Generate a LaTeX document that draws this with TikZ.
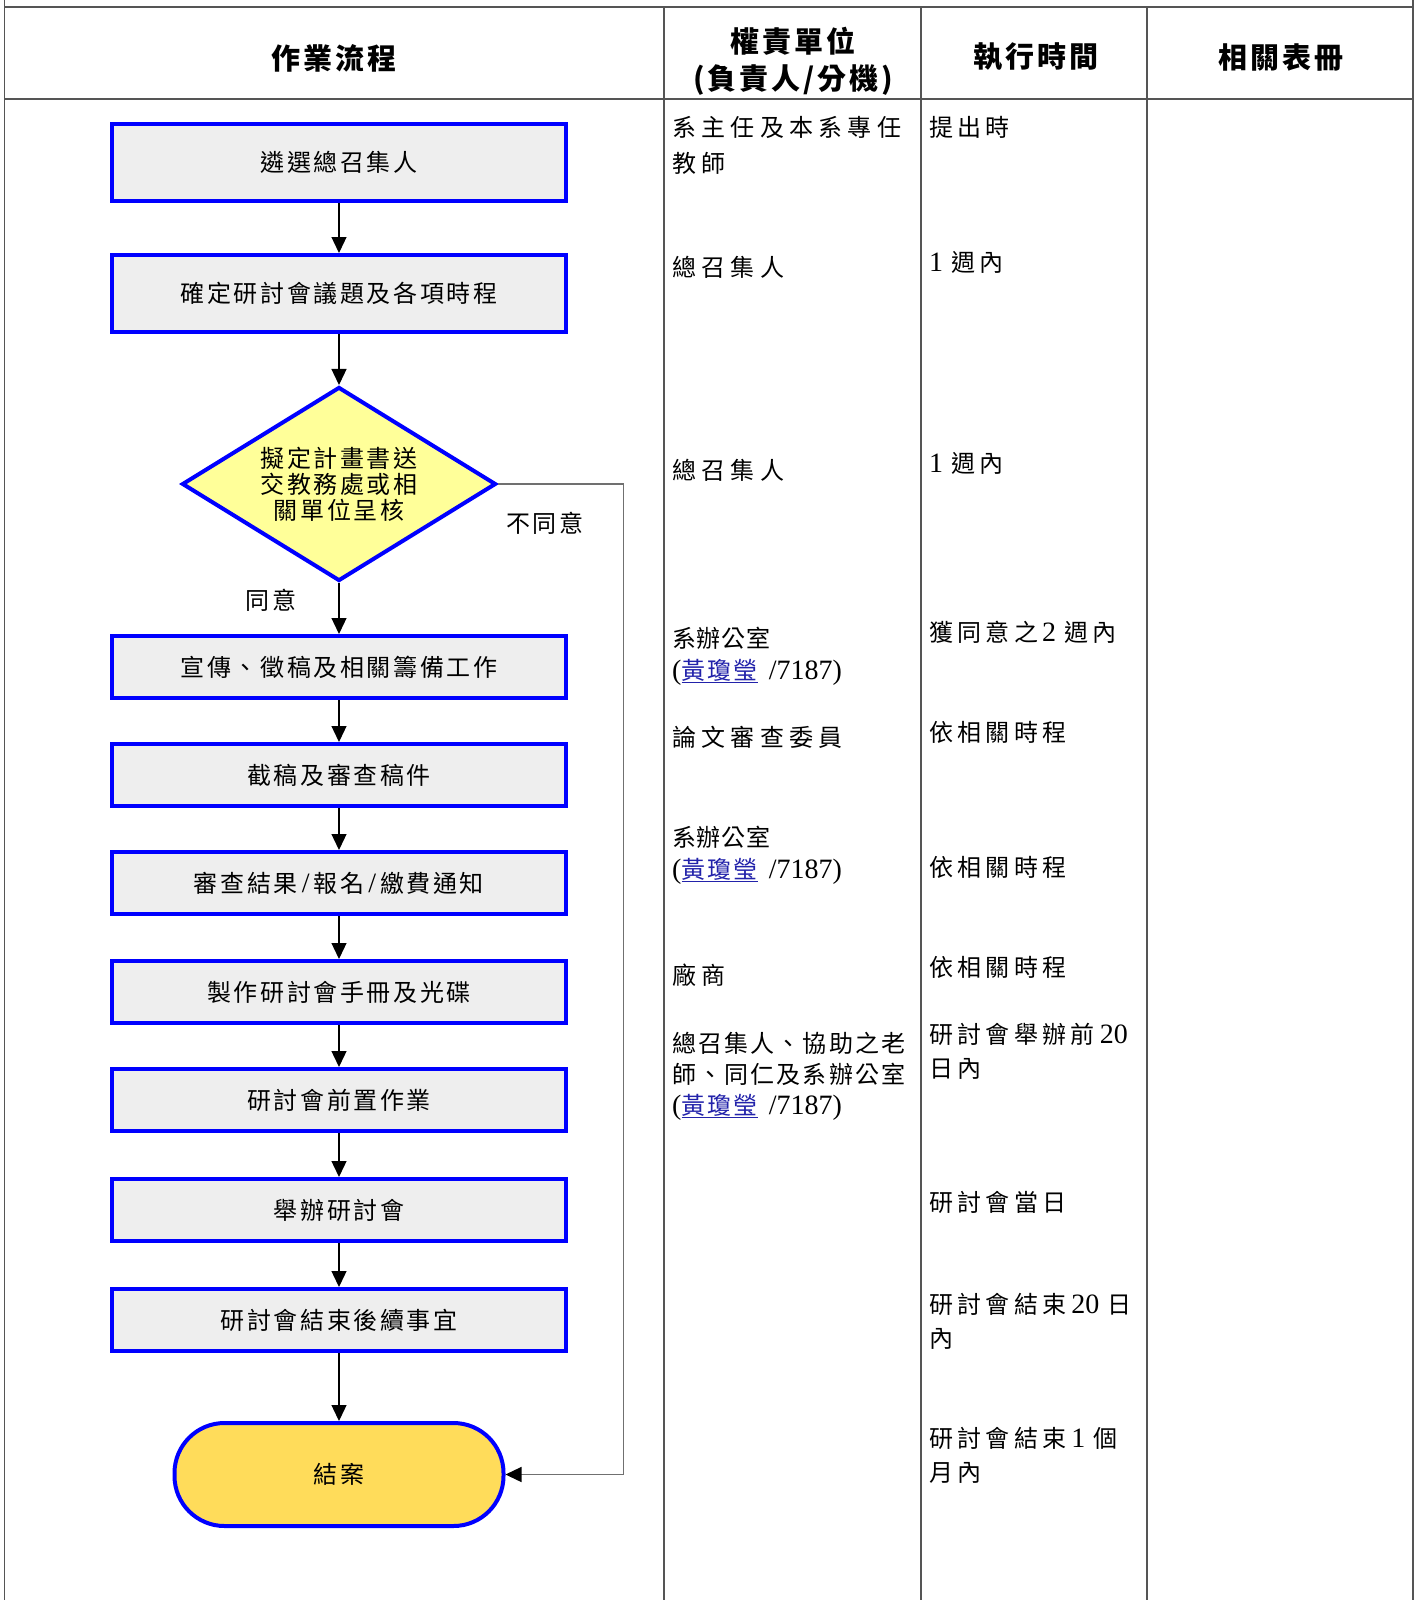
\documentclass[tikz,border=0pt]{standalone}
\usepackage{fontspec}
\setmainfont{Noto Sans CJK TC}
\newfontfamily\latfont{Liberation Serif}
\newfontfamily\stepfont[LetterSpace=11]{Noto Sans CJK TC}
\newfontfamily\cellfont[LetterSpace=22]{Noto Sans CJK TC}
\newfontfamily\timefont[LetterSpace=18]{Noto Sans CJK TC}
\newfontfamily\tightfont[LetterSpace=9]{Noto Sans CJK TC}
\newfontfamily\officefont[LetterSpace=3]{Noto Sans CJK TC}
\newfontfamily\headfont[LetterSpace=10]{Noto Sans CJK TC}
\usepackage{tikz}
\usetikzlibrary{shapes.geometric,arrows.meta,positioning}
\definecolor{stepblue}{HTML}{0000FF}
\definecolor{stepgray}{HTML}{EEEEEE}
\definecolor{askyellow}{HTML}{FFFF99}
\definecolor{endgold}{HTML}{FFDC5A}
\definecolor{rulegray}{HTML}{555555}
\definecolor{backgray}{HTML}{707070}
\definecolor{linkblue}{HTML}{2222AA}
\tikzstyle{grid} = [draw=rulegray, line width=1.8pt]
\tikzstyle{arrow} = [line width=1.3pt, ->]
\tikzstyle{back} = [draw=backgray, line width=1.3pt, -{Triangle[width=15pt,length=16pt,color=black]}]
\tikzstyle{stepbox} = [rectangle, draw=stepblue, fill=stepgray, line width=4pt, minimum width=454pt, minimum height=62pt, inner sep=0pt, font=\stepfont\fontsize{24}{26}\selectfont]
\tikzstyle{tallbox} = [stepbox, minimum height=77pt]
\tikzstyle{decide} = [diamond, draw=stepblue, fill=askyellow, line width=4pt, aspect=1.6, minimum width=314pt, minimum height=194pt, inner sep=1pt, align=center, font=\stepfont\fontsize{24}{26}\selectfont]
\tikzstyle{finish} = [rectangle, rounded corners=50pt, draw=stepblue, fill=endgold, line width=4pt, minimum width=329pt, minimum height=103pt, font=\stepfont\fontsize{24}{26}\selectfont]
\tikzstyle{answer} = [inner sep=0pt, font=\stepfont\fontsize{24}{26}\selectfont]
\tikzstyle{unit} = [anchor=base west, inner sep=0pt, align=left, font=\cellfont\fontsize{24}{32}\selectfont]
\tikzstyle{when} = [anchor=base west, inner sep=0pt, align=left, font=\timefont\fontsize{24}{34}\selectfont]
\tikzstyle{head} = [inner sep=0pt, align=center, font=\headfont\bfseries\fontsize{29}{37}\selectfont]
\newcommand{\lat}[1]{{\latfont\fontsize{28}{32}\selectfont #1}}
\newcommand{\officer}{\lat{(}\textcolor{linkblue}{\underline{\tightfont 黃瓊瑩}}\hspace{11pt}\lat{/7187)}}

\begin{document}
\begin{tikzpicture}[>={Triangle[width=15pt,length=16pt]}, x=1pt, y=1pt]
\useasboundingbox (0,0) rectangle (1419,-1600);
% table frame
\draw[grid] (4.5,0) -- (4.5,-1600);
\draw[grid] (1413,0) -- (1413,-1600);
\draw[grid] (4.5,-7) -- (1413,-7);
\draw[grid] (4.5,-99) -- (1413,-99);
\foreach \x in {664,921,1147}
  \draw[grid] (\x,-7) -- (\x,-1600);

% header row
\node[head] (hflow) at (334,-58) {作業流程};
\node[head] (hunit) at (793,-61) {權責單位\\(負責人/分機)};
\node[head] (htime) at (1036,-57) {執行時間};
\node[head] (hform) at (1281,-57) {相關表冊};

% flow
\node[tallbox] (pick) at (339,-162.5) {遴選總召集人};
\node[tallbox, below=50pt of pick] (plan) {確定研討會議題及各項時程};
\node[decide, below=51pt of plan] (check) {擬定計畫書送\\交教務處或相\\關單位呈核};
\node[stepbox, below=51pt of check] (promo) {宣傳、徵稿及相關籌備工作};
\node[stepbox, below=42pt of promo] (review) {截稿及審查稿件};
\node[stepbox, below=42pt of review] (notify) {審查結果\,\lat{/}\,報名\,\lat{/}\,繳費通知};
\node[stepbox, below=43pt of notify] (book) {製作研討會手冊及光碟};
\node[stepbox, below=42pt of book] (prep) {研討會前置作業};
\node[stepbox, below=44pt of prep] (hold) {舉辦研討會};
\node[stepbox, below=44pt of hold] (after) {研討會結束後續事宜};
\node[finish, below=68pt of after] (close) {結案};

\foreach \a/\b in {pick/plan,plan/check,check/promo,promo/review,review/notify,notify/book,book/prep,prep/hold,hold/after,after/close}
  \draw[arrow] (\a) -- (\b);

\node[answer] (yes) at (271,-600) {同意};
\node[answer] (no) at (545,-523) {不同意};
\path (close.east) ++(118,0) coordinate (turn);
\draw[back] (check.east) -| (turn) -- (close.east);

% responsible units (base = last line)
\node[unit] (u1) at (672,-172) {系主任及本系專任\\[4pt]教師};
\node[unit] (u2) at (672,-276) {總召集人};
\node[unit] (u3) at (672,-479) {總召集人};
\node[unit] (u4) at (672,-679) {{\officefont 系辦公室}\\\officer};
\node[unit] (u5) at (672,-746) {論文審查委員};
\node[unit] (u6) at (672,-878) {{\officefont 系辦公室}\\\officer};
\node[unit] (u7) at (672,-984) {廠商};
\node[unit, font=\tightfont\fontsize{24}{31}\selectfont] (u8) at (672,-1114) {總召集人、協助之老\\師、同仁及系辦公室\\\officer};

% schedule
\node[when] (t1) at (929,-136) {提出時};
\node[when] (t2) at (929,-271) {\lat{1}\hspace{8pt}週內};
\node[when] (t3) at (929,-472) {\lat{1}\hspace{8pt}週內};
\node[when] (t4) at (929,-641) {獲同意之\hspace{4pt}\lat{2}\hspace{8pt}週內};
\node[when] (t5) at (929,-741) {依相關時程};
\node[when] (t6) at (929,-876) {依相關時程};
\node[when] (t7) at (929,-976) {依相關時程};
\node[when] (t8) at (929,-1077) {研討會舉辦前\hspace{5pt}\lat{20}\\日內};
\node[when] (t9) at (929,-1211) {研討會當日};
\node[when] (t10) at (929,-1347) {研討會結束\hspace{5pt}\lat{20}\hspace{8pt}日\\內};
\node[when] (t11) at (929,-1481) {研討會結束\hspace{5pt}\lat{1}\hspace{8pt}個\\月內};
\end{tikzpicture}
\end{document}
